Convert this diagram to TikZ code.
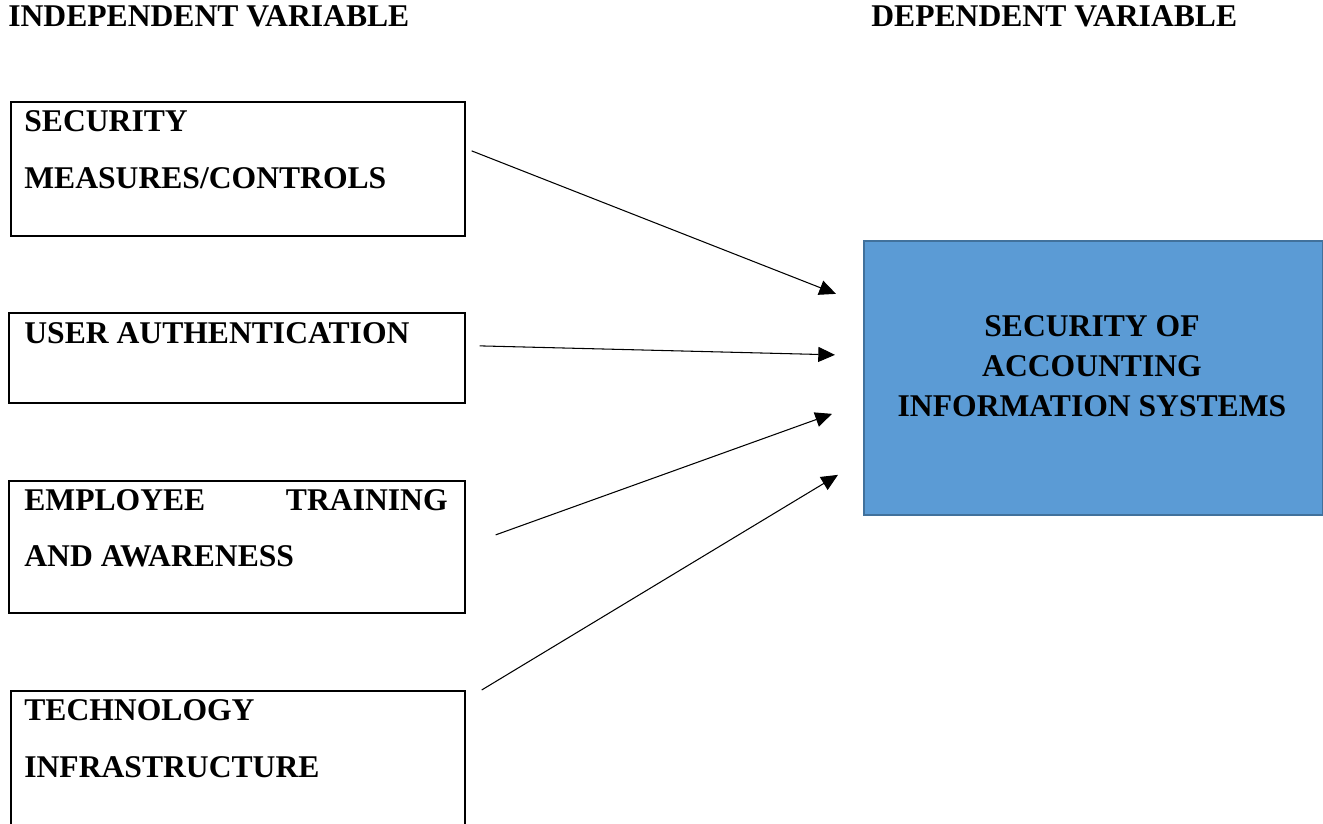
\documentclass[tikz,border=0pt]{standalone}
\usepackage{fontspec}
\setmainfont{Liberation Serif}
\usetikzlibrary{arrows.meta,calc}
\definecolor{boxblue}{HTML}{5B9BD5}
\definecolor{boxedge}{HTML}{41719C}

\begin{document}
\begin{tikzpicture}[x=0.02cm,y=-0.02cm,every node/.style={font=\fontsize{18}{22}\selectfont\bfseries},
  varbox/.style={draw,line width=1pt,anchor=north west,inner sep=0pt},
  txt/.style={anchor=base west,inner sep=0pt},
  link/.style={-{Triangle[length=9.5pt,width=8.5pt]},line width=0.6pt}]
\useasboundingbox (0,0) rectangle (1323,823);
\clip (0,0) rectangle (1323,823);
\node[txt] (hind) at (8,26.5) {INDEPENDENT VARIABLE};
\node[txt] (hdep) at (871,26.5) {DEPENDENT VARIABLE};
\node[varbox,minimum width=9.08cm,minimum height=2.68cm] (sec) at (10,101) {};
\node[varbox,minimum width=9.12cm,minimum height=1.8cm] (usr) at (8,312) {};
\node[varbox,minimum width=9.12cm,minimum height=2.64cm] (emp) at (8,480) {};
\node[varbox,minimum width=9.08cm,minimum height=3.2cm] (tech) at (10,690) {};
\node[draw=boxedge,fill=boxblue,line width=1pt,anchor=north west,inner sep=0pt,
  minimum width=9.18cm,minimum height=5.48cm] (soa) at (863,240) {};
\node[txt] (sec1) at (24,131.5) {SECURITY};
\node[txt] (sec2) at (24,188) {MEASURES/CONTROLS};
\node[txt] (usr1) at (24,343.5) {USER AUTHENTICATION};
\node[txt] (emp1) at (24,510.5) {EMPLOYEE};
\node[anchor=base east,inner sep=0pt] (emp2) at (448,510.5) {TRAINING};
\node[txt] (emp3) at (24,566.5) {AND AWARENESS};
\node[txt] (tech1) at (24,720.5) {TECHNOLOGY};
\node[txt] (tech2) at (24,777) {INFRASTRUCTURE};
\node[anchor=base,inner sep=0pt] (soa1) at (1092,336.5) {SECURITY OF};
\node[anchor=base,inner sep=0pt] (soa2) at (1092,376.5) {ACCOUNTING};
\node[anchor=base,inner sep=0pt] (soa3) at (1092,416.5) {INFORMATION SYSTEMS};
\draw[link] ($(sec.east)+(6,-18)$) -- ($(soa.west)+(-27,-84)$);
\draw[link] ($(usr.east)+(14,-12)$) -- ($(soa.west)+(-28,-23)$);
\draw[link] ($(emp.east)+(30,-12)$) -- ($(soa.west)+(-31,36)$);
\draw[link] ($(tech.north east)+(16,0)$) -- ($(soa.west)+(-25,97)$);
\end{tikzpicture}
\end{document}
